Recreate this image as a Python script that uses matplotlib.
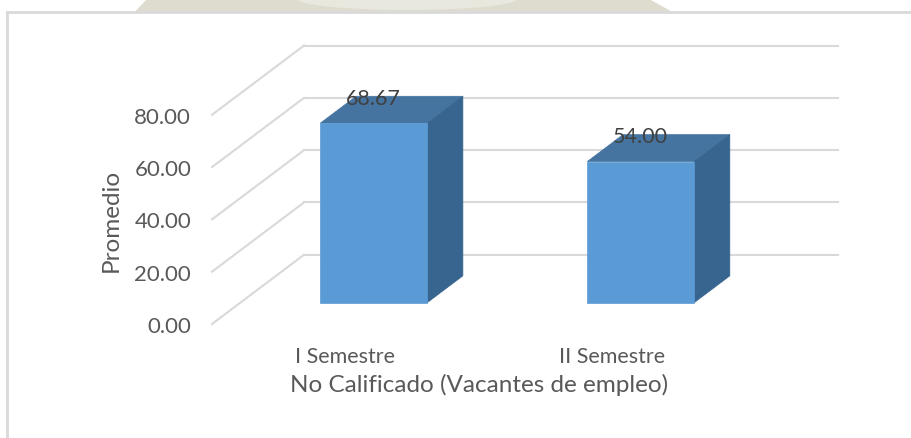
# Excel-style 3D column chart: promedio de vacantes (no calificado) por semestre
import matplotlib.pyplot as plt
from matplotlib.patches import Polygon, Ellipse
from matplotlib.lines import Line2D

categories = ['I Semestre', 'II Semestre']
values = [68.67, 54.00]
yticks = [0, 20, 40, 60, 80]
ytick_labels = ['0.00', '20.00', '40.00', '60.00', '80.00']
ylabel = 'Promedio'
xlabel = 'No Calificado (Vacantes de empleo)'

plt.rcParams['font.family'] = ['Lato', 'DejaVu Sans']

txt = '#595959'
grid = '#d9d9d9'
c_front = '#5b9bd5'
c_top = '#4574a0'
c_side = '#386590'

# depth of the 3d box in data units (x in categories, y in values)
DX = 0.345
DY = 26.5
d0, d1 = 0.307, 0.695   # bar position inside the depth
bw = 0.40

fig = plt.figure(figsize=(9.11, 4.39), dpi=100)

# watermark band above the frame (logo remnant)
band = Polygon([[147/911, 1.0], [649/911, 1.0], [672/911, 1-12.7/439], [135/911, 1-12.7/439]],
               closed=True, transform=fig.transFigure, facecolor='#dedccf', edgecolor='none')
fig.add_artist(band)
fig.add_artist(Ellipse((407/911, 1.0), 220/911, 22/439, transform=fig.transFigure,
                       facecolor='#e9e8df', edgecolor='none'))

# chart frame
fig.add_artist(Line2D([7.3/911, 7.3/911], [0, 1-12.7/439], transform=fig.transFigure, color=grid, lw=2))
fig.add_artist(Line2D([7.3/911, 1], [1-12.7/439, 1-12.7/439], transform=fig.transFigure, color=grid, lw=2))

ax = fig.add_axes([212/911, 114/439, 626/911, 278.5/439])
ax.set_xlim(-0.5, 1.5 + DX)
ax.set_ylim(0, 106.5)
for s in ax.spines.values():
    s.set_visible(False)
ax.patch.set_visible(False)

# back wall gridlines and side wall diagonals
x0 = -0.5
for t in yticks:
    ax.plot([x0 + DX, 1.5 + DX], [t + DY, t + DY], color=grid, lw=1.5, zorder=1, clip_on=False)
    ax.plot([x0, x0 + DX], [t, t + DY], color=grid, lw=1.5, zorder=1, clip_on=False)

# bars
for i, v in enumerate(values):
    xl = i - bw/2
    xr = i + bw/2
    top = [[xl + d0*DX, v + d0*DY], [xr + d0*DX, v + d0*DY],
           [xr + d1*DX, v + d1*DY], [xl + d1*DX, v + d1*DY]]
    side = [[xr + d0*DX, d0*DY], [xr + d1*DX, d1*DY],
            [xr + d1*DX, v + d1*DY], [xr + d0*DX, v + d0*DY]]
    ax.add_patch(Polygon(top, closed=True, facecolor=c_top, edgecolor=c_top, lw=0.5, zorder=3))
    ax.add_patch(Polygon(side, closed=True, facecolor=c_side, edgecolor=c_side, lw=0.5, zorder=3))
    ax.bar(i + d0*DX, v, bottom=d0*DY, width=bw, color=c_front, edgecolor=c_front, lw=0.5, zorder=4)
    ax.text(i + d0*DX, v + d0*DY + 9.6, '%.2f' % v, ha='center', va='center',
            fontsize=15.5, color='#404040', zorder=5)

ax.set_yticks(yticks)
ax.set_yticklabels(ytick_labels)
ax.set_xticks(range(len(categories)))
ax.set_xticklabels(categories)
ax.tick_params(axis='both', length=0, labelcolor=txt)
ax.tick_params(axis='y', pad=15, labelsize=16)
ax.tick_params(axis='x', pad=16, labelsize=15.5)

# axis titles, centred on the front plane
ax.set_xlabel(xlabel, fontsize=17.5, color=txt, labelpad=5)
ax.xaxis.label.set_x((0.5 + 0.5) / (2 + DX))
ax.set_ylabel(ylabel, fontsize=17.5, color=txt, labelpad=9)
ax.yaxis.label.set_y(40 / 106.5)

plt.savefig('out.png', dpi=100)
